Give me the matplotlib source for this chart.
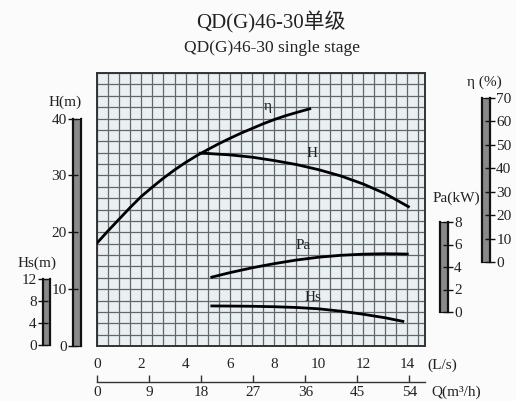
import numpy as np
import matplotlib.pyplot as plt

plt.rcParams['font.family'] = ['Liberation Serif', 'Noto Sans CJK SC']

# performance data, flow in L/s
q_eta = [0, 0.5, 1, 1.5, 2, 2.5, 3, 3.5, 4, 4.5, 5, 5.5, 6, 6.5, 7, 7.5, 8, 8.5, 9, 9.6]
eta = [8.1, 13.3, 18.3, 23.3, 28.0, 32.0, 35.8, 39.3, 42.5, 45.4, 48.0, 50.5,
       52.8, 55.0, 57.0, 59.0, 60.8, 62.4, 63.8, 65.4]

q_h = [4.65, 5, 6, 7, 8, 9, 10, 11, 12, 13, 14.05]
head = [33.9, 33.85, 33.6, 33.2, 32.6, 31.9, 31.0, 29.9, 28.5, 26.8, 24.5]

q_pa = [5.18, 6, 7, 8, 9, 10, 11, 12, 13, 14]
power = [3.1, 3.5, 3.93, 4.3, 4.62, 4.87, 5.04, 5.14, 5.18, 5.15]

q_hs = [5.18, 6, 7, 8, 9, 10, 11, 12, 13, 13.8]
npsh = [7.1, 7.08, 7.04, 6.96, 6.82, 6.58, 6.15, 5.6, 4.95, 4.3]

ls_ticks = [0, 2, 4, 6, 8, 10, 12, 14]
q_ticks = [0, 9, 18, 27, 36, 45, 54]
h_ticks = [0, 10, 20, 30, 40]
hs_ticks = [0, 4, 8, 12]
eta_ticks = [0, 10, 20, 30, 40, 50, 60, 70]
pa_ticks = [0, 2, 4, 6, 8]

W, H = 516, 401
BOX = (97, 73, 425, 346)   # left, top, right, bottom in px
XMAX = 14.8
YMAX = 48
Q_PER_LS = 54 / 14.1
TXT = '#222222'
LW = 2.0


def rect(x0, y0, x1, y1):
    return [x0 / W, 1 - y1 / H, (x1 - x0) / W, (y1 - y0) / H]


def y_px(frac):
    return BOX[3] - frac * (BOX[3] - BOX[1])


fig = plt.figure(figsize=(W / 100, H / 100), dpi=100, facecolor='#fbfbfb')

ax = fig.add_axes(rect(*BOX))
ax.set_facecolor('#eaeff1')
ax.set_xlim(0, XMAX)
ax.set_ylim(0, YMAX)
ax.set_xticks(ls_ticks)
ax.set_xticks(np.arange(0, XMAX, 0.5), minor=True)
ax.set_yticks(np.arange(0, YMAX + 1, 2))
ax.grid(which='both', color='#62676a', lw=0.9)
ax.set_axisbelow(True)
ax.tick_params(axis='x', which='both', length=0, pad=9, labelsize=11, labelcolor=TXT)
ax.tick_params(axis='y', which='both', length=0, labelleft=False)
for s in ax.spines.values():
    s.set_linewidth(1.4)
    s.set_color('#333333')

# flow in m3/h below
sec = ax.secondary_xaxis(-(382 - BOX[3]) / (BOX[3] - BOX[1]),
                         functions=(lambda x: x * Q_PER_LS, lambda q: q / Q_PER_LS))
sec.set_xticks(q_ticks)
sec.tick_params(direction='in', length=5, width=1, pad=3, labelsize=11,
                labelcolor=TXT, color='#333333')
sec.spines['bottom'].set_linewidth(1)
sec.spines['bottom'].set_color('#333333')

fig.text(427 / W, 1 - 365 / H, '(L/s)', fontsize=11, color=TXT, va='center')
fig.text(431 / W, 1 - 392 / H, 'Q(m³/h)', fontsize=11, color=TXT, va='center')

# head curve on main axes
ax.plot(q_h, head, color='black', lw=LW)
ax.text(9.71, 32.7, 'H', fontsize=11, color=TXT, ha='center', va='bottom')


def scale_bar(x0, x1, y_zero, y_top, vmax, ticks, side):
    b = fig.add_axes(rect(x0, y_top, x1, y_zero))
    b.set_facecolor('#8a8a8a')
    b.set_ylim(0, vmax)
    b.set_xticks([])
    b.set_yticks(ticks)
    for k in ('left', 'right'):
        b.spines[k].set_linewidth(1.6)
        b.spines[k].set_color('#111111')
    for k in ('top', 'bottom'):
        b.spines[k].set_linewidth(0.8)
        b.spines[k].set_color('#111111')
    b.yaxis.set_ticks_position(side)
    b.tick_params(axis='y', direction='inout', length=7, width=1, pad=1,
                  labelsize=11, labelcolor=TXT, color='#111111')
    return b


def twin(y_zero, y_top, vmax):
    t = ax.twinx()
    s = vmax / (y_zero - y_top)
    t.set_ylim(-(BOX[3] - y_zero) * s, (y_zero - BOX[1]) * s)
    t.axis('off')
    return t


h_top = y_px(40 / YMAX)
scale_bar(73, 81, BOX[3], h_top, 40, h_ticks, 'left')
fig.text(65 / W, 1 - 102 / H, 'H(m)', fontsize=11, color=TXT, ha='center', va='center')

scale_bar(43, 50, 345, 279, 12, hs_ticks, 'left')
fig.text(37 / W, 1 - 263 / H, 'Hs(m)', fontsize=11, color=TXT, ha='center', va='center')

scale_bar(482, 490, 262, 98, 70, eta_ticks, 'right')
fig.text(484 / W, 1 - 82 / H, 'η (%)', fontsize=11, color=TXT, ha='center', va='center')

scale_bar(440, 448, 312, 222, 8, pa_ticks, 'right')
fig.text(456 / W, 1 - 198 / H, 'Pa(kW)', fontsize=11, color=TXT, ha='center', va='center')

ax_eta = twin(262, 98, 70)
ax_eta.plot(q_eta, eta, color='black', lw=LW)
ax_eta.text(7.72, 66.5, 'η', fontsize=11, color=TXT, ha='center', va='center')

ax_pa = twin(312, 222, 8)
ax_pa.plot(q_pa, power, color='black', lw=LW)
ax_pa.text(9.3, 5.9, 'Pa', fontsize=11, color=TXT, ha='center', va='center')

ax_hs = twin(345, 279, 12)
ax_hs.plot(q_hs, npsh, color='black', lw=LW)
ax_hs.text(9.76, 8.6, 'Hs', fontsize=11, color=TXT, ha='center', va='center')

fig.text(271 / W, 1 - 22 / H, 'QD(G)46-30单级', fontsize=15, color=TXT,
         ha='center', va='center')
fig.text(272 / W, 1 - 48 / H, 'QD(G)46-30 single stage', fontsize=12.5, color=TXT,
         ha='center', va='center')

fig.savefig('out.png', dpi=100, facecolor=fig.get_facecolor())
